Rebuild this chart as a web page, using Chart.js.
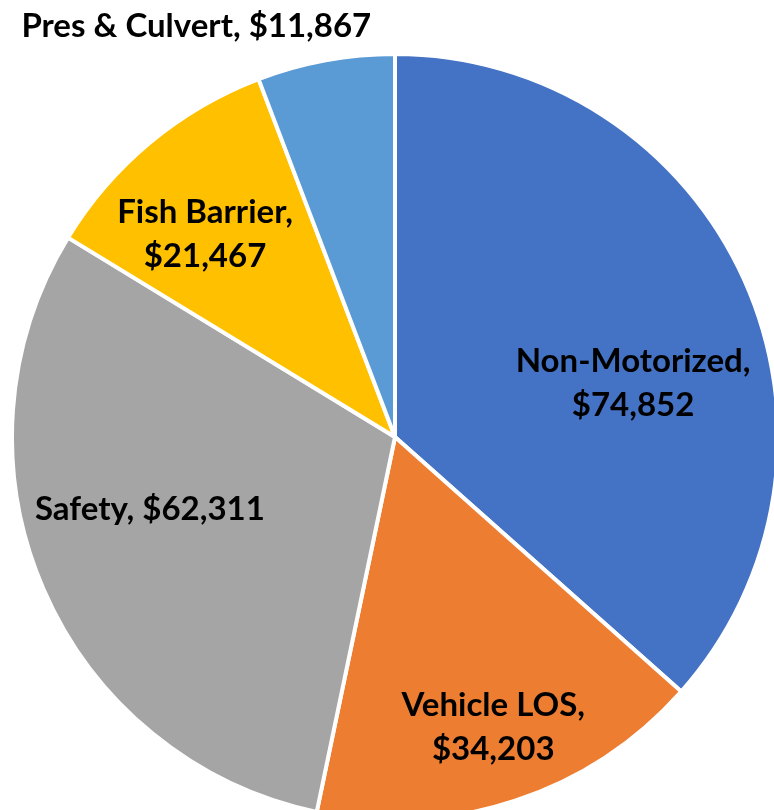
<!DOCTYPE html>
<html>
<head>
<meta charset="utf-8">
<style>
  html, body { margin: 0; padding: 0; background: #fff; }
  canvas { display: block; }
</style>
<script src="https://cdn.jsdelivr.net/npm/chart.js@4.4.1/dist/chart.umd.min.js"></script>
</head>
<body>
<canvas id="pieChart" width="774" height="810"></canvas>
<script>
// categories and values
const categories = ['Non-Motorized', 'Vehicle LOS', 'Safety', 'Fish Barrier', 'Pres & Culvert'];
const amounts = [74852, 34203, 62311, 21467, 11867];
const sliceColors = ['#4472C4', '#ED7D31', '#A5A5A5', '#FFC000', '#5B9BD5'];

// where each label sits: angle from 12 o'clock (deg, clockwise) and fraction of radius
const labelSpots = [
  { angle: 77.4, r: 0.637, lines: 2 },
  { angle: 161.3, r: 0.80, lines: 2 },
  { angle: 253.6, r: 0.667, lines: 1 },
  { angle: 316.9, r: 0.726, lines: 2 },
  { angle: 334.2, r: 1.192, lines: 1 }
];

const money = v => '$' + v.toLocaleString('en-US');

const pieLabels = {
  id: 'pieLabels',
  afterDatasetsDraw(chart) {
    const ctx = chart.ctx;
    const arcs = chart.getDatasetMeta(0).data;
    ctx.save();
    ctx.font = 'bold 33px Lato';
    ctx.fillStyle = '#000';
    ctx.textAlign = 'center';
    ctx.textBaseline = 'middle';
    arcs.forEach((arc, i) => {
      const spot = labelSpots[i];
      const a = spot.angle * Math.PI / 180;
      const x = arc.x + Math.sin(a) * arc.outerRadius * spot.r;
      const y = arc.y - Math.cos(a) * arc.outerRadius * spot.r;
      const name = categories[i] + ',';
      const val = money(amounts[i]);
      if (spot.lines === 2) {
        ctx.fillText(name, x, y - 22);
        ctx.fillText(val, x, y + 22);
      } else {
        ctx.fillText(name + ' ' + val, x, y);
      }
    });
    ctx.restore();
  }
};

const ctx = document.getElementById('pieChart').getContext('2d');
let pieChart = new Chart(ctx, {
  type: 'pie',
  data: {
    labels: categories,
    datasets: [{
      data: amounts,
      backgroundColor: sliceColors,
      borderColor: '#ffffff',
      borderWidth: 4,
      clip: false
    }]
  },
  options: {
    responsive: false,
    animation: false,
    radius: 383,
    layout: { padding: { left: 16, right: 0, top: 64, bottom: 0 } },
    events: [],
    plugins: {
      legend: { display: false },
      tooltip: { enabled: false }
    }
  },
  plugins: [pieLabels]
});
</script>
</body>
</html>
